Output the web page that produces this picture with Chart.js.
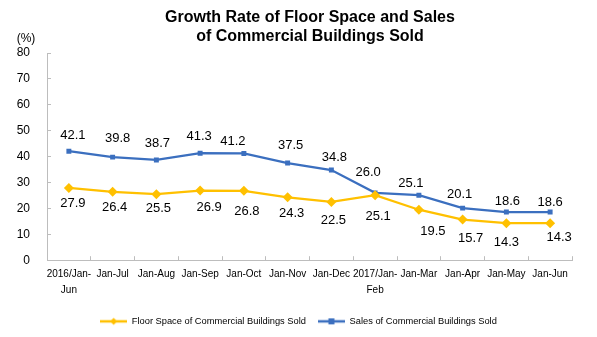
<!DOCTYPE html>
<html>
<head>
<meta charset="utf-8">
<script src="https://cdn.jsdelivr.net/npm/chart.js@4.4.1/dist/chart.umd.min.js"></script>
<style>
  html, body { margin: 0; padding: 0; background: #ffffff; }
  #wrap { width: 597px; height: 337px; position: relative; }
</style>
</head>
<body>
<div id="wrap"><canvas id="c" width="597" height="337"></canvas></div>
<script>
// ---- data ----
const categories = [
  ["2016/Jan-", "Jun"], "Jan-Jul", "Jan-Aug", "Jan-Sep", "Jan-Oct", "Jan-Nov",
  "Jan-Dec", ["2017/Jan-", "Feb"], "Jan-Mar", "Jan-Apr", "Jan-May", "Jan-Jun"
];
const floorSpace = [27.9, 26.4, 25.5, 26.9, 26.8, 24.3, 22.5, 25.1, 19.5, 15.7, 14.3, 14.3];
const sales = [42.1, 39.8, 38.7, 41.3, 41.2, 37.5, 34.8, 26.0, 25.1, 20.1, 18.6, 18.6];
const seriesNames = ["Floor Space of Commercial Buildings Sold", "Sales of Commercial Buildings Sold"];
const yTicks = [0, 10, 20, 30, 40, 50, 60, 70, 80];
const titleLines = ["Growth Rate of Floor Space and Sales", "of Commercial Buildings Sold"];
const unitLabel = "(%)";

// ---- styles ----
const ORANGE = "#FFC000";
const BLUE = "#3B6FBF";
const FONT = "'Liberation Sans', Arial, sans-serif";

// label offsets (style only): [dx, dy] relative to each point
const labelOffsets = [
  [[4,15],[2,16],[2,14],[9,17],[3,21],[4,16],[2,18],[3,21],[14,22],[8,19],[0,19],[9,14]],
  [[4,-16],[5,-19],[1,-17],[-1,-17],[-11,-12],[3,-18],[3,-13],[-7,-20],[-8,-12],[-3,-14],[1,-11],[0,-10]]
];

function legendIcon(color, shape) {
  const cv = document.createElement('canvas');
  cv.width = 27; cv.height = 10;
  const g = cv.getContext('2d');
  g.strokeStyle = color; g.lineWidth = 2.5;
  g.beginPath(); g.moveTo(0, 5); g.lineTo(27, 5); g.stroke();
  g.fillStyle = color;
  if (shape === 'diamond') {
    g.beginPath(); g.moveTo(13.5, 1.5); g.lineTo(17, 5); g.lineTo(13.5, 8.5); g.lineTo(10, 5); g.closePath(); g.fill();
  } else {
    g.fillRect(10.5, 2, 6, 6);
  }
  return cv;
}

const extraText = {
  id: 'extraText',
  afterDraw(chart) {
    const ctx = chart.ctx;
    ctx.save();
    ctx.fillStyle = '#000';
    ctx.textAlign = 'center';
    ctx.textBaseline = 'middle';
    ctx.font = "bold 16px " + FONT;
    ctx.fillText(titleLines[0], 310, 18);
    ctx.fillText(titleLines[1], 310, 36.5);
    ctx.font = "12px " + FONT;
    ctx.fillText(unitLabel, 26, 39);
    ctx.restore();
  }
};

const dataLabels = {
  id: 'dataLabels',
  afterDatasetsDraw(chart) {
    const ctx = chart.ctx;
    ctx.save();
    ctx.fillStyle = '#000';
    ctx.font = "13px " + FONT;
    ctx.textAlign = 'center';
    ctx.textBaseline = 'middle';
    chart.data.datasets.forEach((ds, di) => {
      const meta = chart.getDatasetMeta(di);
      meta.data.forEach((pt, i) => {
        const off = labelOffsets[di][i];
        ctx.fillText(ds.data[i].toFixed(1), pt.x + off[0], pt.y + off[1]);
      });
    });
    ctx.restore();
  }
};

const icons = [legendIcon(ORANGE, 'diamond'), legendIcon(BLUE, 'square')];

new Chart(document.getElementById('c'), {
  type: 'line',
  data: {
    labels: categories,
    datasets: [
      {
        label: seriesNames[0], data: floorSpace,
        borderColor: ORANGE, backgroundColor: ORANGE, borderWidth: 2.25,
        pointStyle: 'rectRot', pointRadius: 5, pointBorderWidth: 0,
        tension: 0
      },
      {
        label: seriesNames[1], data: sales,
        borderColor: BLUE, backgroundColor: BLUE, borderWidth: 2.25,
        pointStyle: 'rect', pointRadius: 3.5, pointBorderWidth: 0,
        tension: 0
      }
    ]
  },
  options: {
    responsive: false,
    devicePixelRatio: 1,
    animation: false,
    layout: { padding: { left: 0, right: 0, top: 53, bottom: 1 } },
    plugins: {
      title: { display: false },
      legend: {
        display: true,
        position: 'bottom',
        labels: {
          color: '#000',
          font: { family: FONT, size: 9.3 },
          usePointStyle: true,
          pointStyleWidth: 27,
          padding: 12,
          generateLabels(chart) {
            return chart.data.datasets.map((ds, i) => ({
              text: ds.label,
              pointStyle: icons[i],
              fillStyle: ds.borderColor,
              strokeStyle: ds.borderColor,
              lineWidth: 0,
              hidden: false,
              datasetIndex: i
            }));
          }
        }
      },
      tooltip: { enabled: false }
    },
    scales: {
      x: {
        offset: true,
        grid: { display: true, drawOnChartArea: false, offset: true, tickLength: -4, color: '#BDBDBD' },
        border: { display: true, color: '#BDBDBD', width: 1 },
        ticks: {
          color: '#000', font: { family: FONT, size: 10, lineHeight: 1.6 },
          maxRotation: 0, minRotation: 0, autoSkip: false, padding: 10.5
        },
        afterFit(s) { s.height = 44.5; }
      },
      y: {
        min: 0, max: 80,
        afterBuildTicks(s) { s.ticks = yTicks.map(v => ({ value: v })); },
        grid: { display: true, drawOnChartArea: false, tickLength: -4, color: '#BDBDBD' },
        border: { display: true, color: '#BDBDBD', width: 1 },
        ticks: { color: '#000', font: { family: FONT, size: 12 }, padding: 21 },
        afterFit(s) { s.width = 47; }
      },
      yRight: {
        position: 'right',
        display: true,
        grid: { display: false },
        border: { display: false },
        ticks: { display: false },
        afterFit(s) { s.width = 25; }
      }
    }
  },
  plugins: [dataLabels, extraText]
});
</script>
</body>
</html>
